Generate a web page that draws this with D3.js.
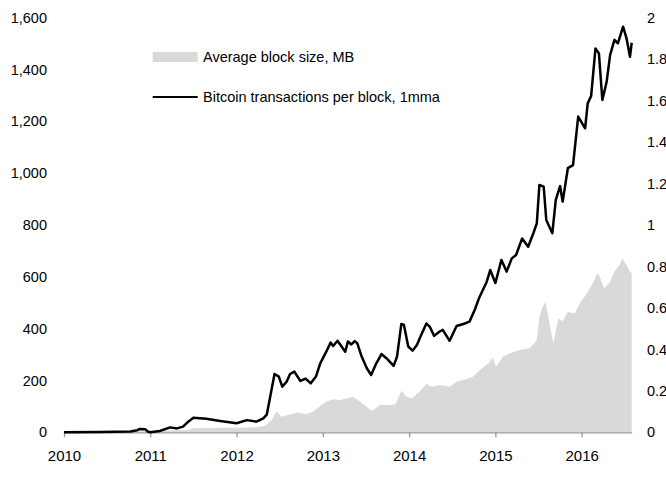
<!DOCTYPE html>
<html>
<head>
<meta charset="utf-8">
<script src="https://cdn.jsdelivr.net/npm/d3@7"></script>
<style>
  html, body { margin: 0; padding: 0; background: #fff; }
  svg { display: block; font-family: "Liberation Sans", Arial, sans-serif; }
</style>
</head>
<body>
<svg id="chart" width="666" height="493"></svg>
<script>
// Bitcoin transactions per block, 1mma (left axis) — [decimal year, value]
const txDates = [2010.00,2010.42,2010.77,2010.85,2010.88,2010.94,2010.97,2011.00,2011.11,2011.23,2011.31,2011.38,2011.44,2011.50,2011.65,2011.81,2012.00,2012.12,2012.23,2012.31,2012.35,2012.39,2012.44,2012.49,2012.53,2012.58,2012.62,2012.67,2012.74,2012.80,2012.86,2012.92,2012.97,2013.04,2013.09,2013.12,2013.17,2013.26,2013.29,2013.33,2013.37,2013.40,2013.45,2013.51,2013.56,2013.62,2013.68,2013.74,2013.82,2013.86,2013.91,2013.94,2013.99,2014.04,2014.09,2014.14,2014.20,2014.24,2014.29,2014.35,2014.39,2014.47,2014.55,2014.63,2014.70,2014.76,2014.81,2014.90,2014.94,2015.00,2015.07,2015.13,2015.19,2015.24,2015.31,2015.38,2015.44,2015.48,2015.51,2015.56,2015.59,2015.66,2015.70,2015.75,2015.78,2015.84,2015.90,2015.96,2016.04,2016.07,2016.11,2016.16,2016.20,2016.24,2016.29,2016.33,2016.38,2016.42,2016.48,2016.52,2016.56,2016.58];
const txValues = [0,1,3,8,13,12,3,0,5,19,15,22,41,56,52,44,35,47,41,54,68,137,225,215,176,195,225,234,198,207,189,215,266,311,346,333,353,311,350,339,352,343,292,247,221,266,302,285,256,292,418,414,331,315,337,375,420,407,372,388,395,353,410,418,427,472,517,581,626,576,665,620,671,684,748,716,768,806,954,948,819,768,897,950,890,1019,1031,1218,1173,1269,1298,1481,1462,1282,1353,1456,1514,1501,1565,1520,1449,1503];

// Average block size, MB (right axis) — [decimal year, value]
const sizeDates = [2010.00,2010.50,2011.00,2011.30,2011.44,2011.50,2011.80,2012.00,2012.25,2012.33,2012.41,2012.46,2012.52,2012.60,2012.70,2012.81,2012.89,2012.97,2013.04,2013.12,2013.20,2013.35,2013.43,2013.55,2013.58,2013.66,2013.81,2013.85,2013.91,2013.97,2014.03,2014.12,2014.20,2014.26,2014.36,2014.47,2014.55,2014.63,2014.74,2014.82,2014.92,2014.97,2015.01,2015.09,2015.17,2015.28,2015.40,2015.48,2015.51,2015.55,2015.58,2015.62,2015.67,2015.73,2015.78,2015.84,2015.92,2015.98,2016.06,2016.13,2016.18,2016.21,2016.26,2016.33,2016.38,2016.44,2016.47,2016.52,2016.56,2016.58];
const sizeValues = [0.002,0.003,0.005,0.010,0.011,0.020,0.022,0.022,0.025,0.030,0.060,0.100,0.075,0.083,0.095,0.087,0.100,0.127,0.148,0.159,0.156,0.172,0.148,0.108,0.104,0.132,0.132,0.140,0.200,0.172,0.164,0.196,0.233,0.220,0.228,0.220,0.244,0.252,0.268,0.300,0.333,0.360,0.316,0.365,0.381,0.397,0.405,0.445,0.558,0.606,0.630,0.542,0.430,0.550,0.534,0.580,0.574,0.622,0.670,0.719,0.767,0.750,0.695,0.726,0.775,0.807,0.839,0.807,0.775,0.767];

const xTicks = [2010, 2011, 2012, 2013, 2014, 2015, 2016];
const leftTicks = [0, 200, 400, 600, 800, 1000, 1200, 1400, 1600];
const rightTicks = [0, 0.2, 0.4, 0.6, 0.8, 1, 1.2, 1.4, 1.6, 1.8, 2];
const legendLabels = ["Average block size, MB", "Bitcoin transactions per block, 1mma"];

const svg = d3.select("#chart");
const x = d3.scaleLinear().domain([2010, 2016.58]).range([64, 631.7]);
const yL = d3.scaleLinear().domain([0, 1600]).range([432.3, 17.6]);
const yR = d3.scaleLinear().domain([0, 2]).range([432.3, 17.6]);

const txData = txDates.map((d, i) => ({ t: d, v: txValues[i] }));
const sizeData = sizeDates.map((d, i) => ({ t: d, v: sizeValues[i] }));

// area
svg.append("path")
  .datum(sizeData)
  .attr("fill", "#d9d9d9")
  .attr("d", d3.area().x(d => x(d.t)).y0(yR(0)).y1(d => yR(d.v)));

// bottom axis
const xAxis = svg.append("g")
  .attr("transform", `translate(0,${yL(0)})`)
  .call(d3.axisBottom(x).tickValues(xTicks).tickFormat(d3.format("d")).tickSize(5).tickSizeOuter(0));
xAxis.select(".domain").attr("stroke", "#999").attr("stroke-width", 1.3);
xAxis.selectAll(".tick line").attr("stroke", "#999").attr("stroke-width", 1.3);
xAxis.selectAll(".tick text").attr("fill", "#000").attr("font-size", 15).attr("dy", "21px")
  .attr("font-family", "Liberation Sans, Arial, sans-serif");

// left axis
const lAxis = svg.append("g")
  .attr("transform", "translate(55,0)")
  .call(d3.axisLeft(yL).tickValues(leftTicks).tickFormat(d3.format(",")).tickSize(0).tickPadding(8));
lAxis.select(".domain").remove();
lAxis.selectAll(".tick text").attr("fill", "#000").attr("font-size", 14.5)
  .attr("font-family", "Liberation Sans, Arial, sans-serif");

// right axis
const rAxis = svg.append("g")
  .attr("transform", "translate(639,0)")
  .call(d3.axisRight(yR).tickValues(rightTicks).tickFormat(d => String(+d.toFixed(1))).tickSize(0).tickPadding(8));
rAxis.select(".domain").remove();
rAxis.selectAll(".tick text").attr("fill", "#000").attr("font-size", 14.5)
  .attr("font-family", "Liberation Sans, Arial, sans-serif");

// line
svg.append("path")
  .datum(txData)
  .attr("fill", "none")
  .attr("stroke", "#000")
  .attr("stroke-width", 2.5)
  .attr("stroke-linejoin", "round")
  .attr("d", d3.line().x(d => x(d.t)).y(d => yL(d.v)));

// legend
const lg = svg.append("g").attr("font-size", 14.5).attr("font-family", "Liberation Sans, Arial, sans-serif");
lg.append("rect").attr("x", 152.7).attr("y", 52).attr("width", 45).attr("height", 10).attr("fill", "#d9d9d9");
lg.append("text").attr("x", 203).attr("y", 62).text(legendLabels[0]);
lg.append("line").attr("x1", 152.7).attr("x2", 197.7).attr("y1", 97).attr("y2", 97).attr("stroke", "#000").attr("stroke-width", 2.2);
lg.append("text").attr("x", 203).attr("y", 102).text(legendLabels[1]);
</script>
</body>
</html>
